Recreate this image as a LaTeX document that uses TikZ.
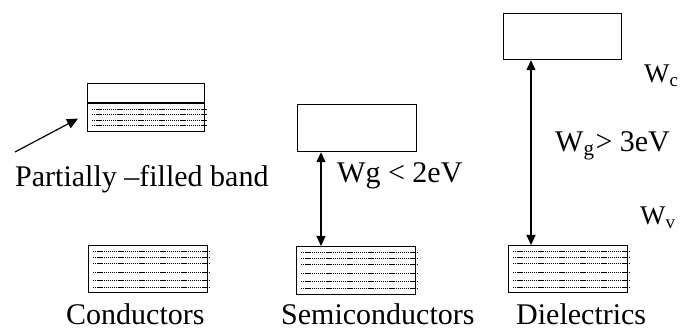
\documentclass[tikz,border=0pt]{standalone}
\usepackage{fontspec}
\setmainfont{Liberation Serif}
\usetikzlibrary{arrows.meta,positioning,calc}

\begin{document}
\begin{tikzpicture}[
x=1pt,y=-1pt,
box/.style={draw,line width=1.2pt,minimum width=118pt,minimum height=47pt,inner sep=0pt,anchor=north west},
lvl/.style={line width=1pt,dash pattern=on 1.3pt off 0.8pt},
arr/.style={-{Triangle[length=11pt,width=10pt]},line width=1.2pt},
arrs/.style={{Triangle[length=10pt,width=9pt]}-{Triangle[length=10pt,width=9pt]},line width=1.2pt},
lab/.style={inner sep=0pt,anchor=base west,font=\fontsize{30}{33}\selectfont},
lev/.style={lab,font=\fontsize{27}{30}\selectfont}
]
\useasboundingbox (0,0) rectangle (680,331);

\node (ctop) [box,minimum width=117pt,minimum height=48pt] at (87,83) {};
\node (cbot) [box,minimum width=119pt] at (88,245) {};
\node (stop) [box,minimum width=119pt] at (297,104) {};
\node (sbot) [box,minimum width=119pt,minimum height=48pt] at (296,246) {};
\node (dtop) [box,minimum height=46pt] at (503,13) {};
\node (dbot) [box,minimum width=119pt] at (508,245) {};

\draw[line width=1.2pt] ($(ctop.north west)+(0,20)$) -- ($(ctop.north east)+(0,20)$);
\foreach \d in {27,32,38,43}
  \draw[lvl] ($(ctop.north west)+(5,\d)$) -- ($(ctop.north east)+(2,\d)$);
\foreach \n in {cbot,sbot,dbot}
  \foreach \d in {6,12,18,27,35,42}
    \draw[lvl] ($(\n.north west)+(5,\d)$) -- ($(\n.north east)+(2,\d)$);

\coordinate (pf) at (15,152);
\draw[arr] (pf) -- ($(ctop.west)+(-9,11)$);
\draw[arrs] ([xshift=24pt]stop.south west) -- ([xshift=25pt]sbot.north west);
\draw[arrs] ([xshift=28pt]dtop.south west) -- ([xshift=23pt]dbot.north west);

\node (pfl) [lab] at (15,187) {Partially –filled band};
\node (cl) [lab] at (66,324) {Conductors};
\node (sl) [lab] at (281,324) {Semiconductors};
\node (dl) [lab] at (516,324) {Dielectrics};
\node (sg) [lab] at (337,183) {Wg < 2eV};
\node (dg) [lab] at (555,152) {W\textsubscript{g}\kern1pt> 3eV};
\node (wc) [lev] at (644,83) {W\textsubscript{c}};
\node (wv) [lev] at (640,225) {W\textsubscript{v}};
\end{tikzpicture}
\end{document}
